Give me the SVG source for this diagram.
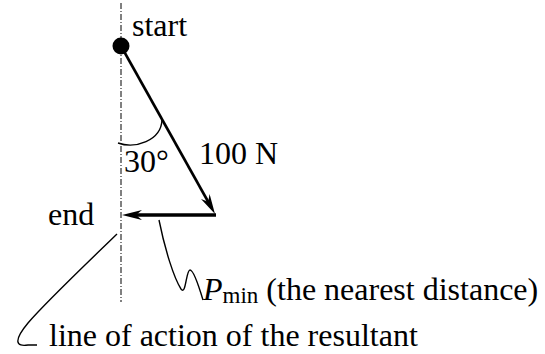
<svg xmlns="http://www.w3.org/2000/svg" width="545" height="354" viewBox="0 0 545 354">
<defs>
<style>
.t{font-family:"Liberation Serif","Times New Roman",serif;font-size:32px;fill:#000}
.axis{stroke:#000;stroke-width:1;stroke-dasharray:6 2 1 2;fill:none}
.thin{stroke:#000;stroke-width:1.4;fill:none}
</style>
<marker id="ah" viewBox="0 0 20 10" refX="12" refY="5" markerWidth="20" markerHeight="10" markerUnits="userSpaceOnUse" orient="auto">
<path d="M0,0 L20,5 L0,10 L6,5 Z" fill="#000"/>
</marker>
</defs>
<g id="axis"><line class="axis" x1="121" y1="3" x2="121" y2="302"/></g>
<g id="start"><circle cx="121" cy="46" r="8.5" fill="#000"/><text class="t" x="132" y="36">start</text></g>
<g id="connectors">
<line x1="121" y1="46" x2="211.1" y2="207" stroke="#000" stroke-width="2.6" marker-end="url(#ah)"/>
<line x1="216" y1="215" x2="130" y2="215" stroke="#000" stroke-width="3.4" marker-end="url(#ah)"/>
<path class="thin" d="M118,143 C135,149 161,141 162,120"/>
<path class="thin" d="M159,220 C165,250 174,278 181,289 C186,296 186,270 190,270 C194,270 200,290 203,300"/>
<path class="thin" d="M117,234 C85,265 45,303 28,323 C13,341 16,347 28,345 L37,345"/>
</g>
<g id="angle"><text class="t" x="124" y="172">30°</text></g>
<g id="force"><text class="t" x="199" y="164">100 N</text></g>
<g id="end"><text class="t" x="48" y="225">end</text></g>
<g id="pmin"><text class="t" x="203" y="300"><tspan font-style="italic">P</tspan><tspan font-size="23" dy="3">min</tspan><tspan dy="-3"> (the nearest distance)</tspan></text></g>
<g id="loa"><text class="t" x="49" y="346">line of action of the resultant</text></g>
</svg>
